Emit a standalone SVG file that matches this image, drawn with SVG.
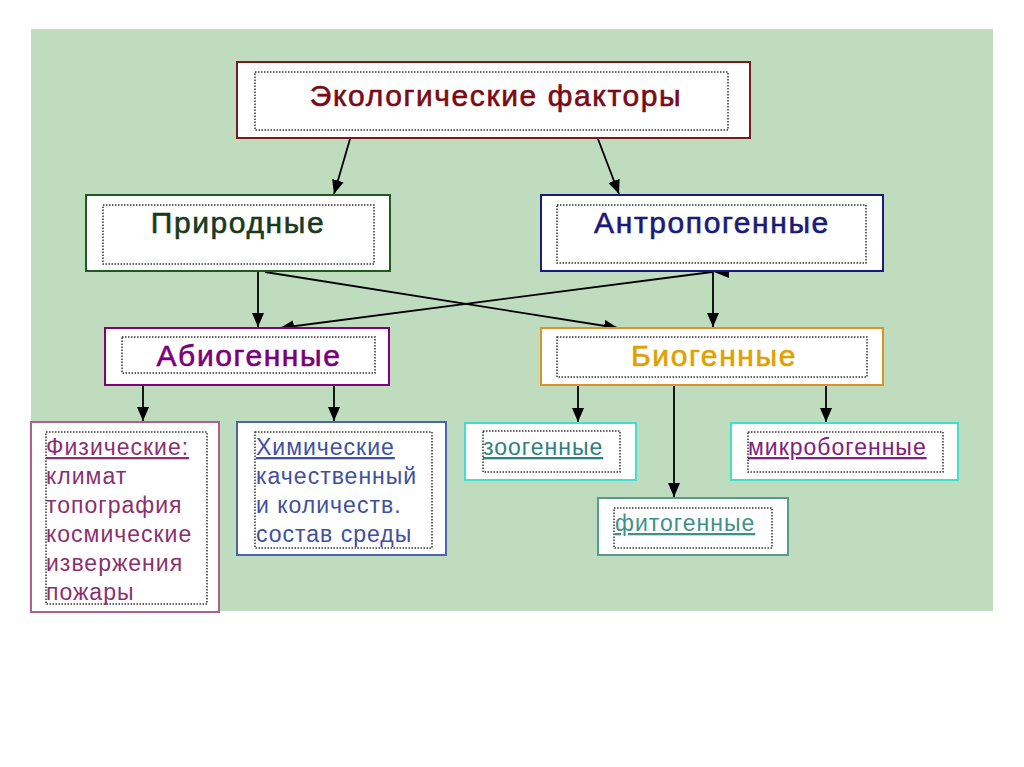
<svg xmlns="http://www.w3.org/2000/svg" width="1024" height="767" viewBox="0 0 1024 767">
<defs>
<marker id="ah" viewBox="0 0 14 12" refX="14" refY="6" markerWidth="14" markerHeight="12" markerUnits="userSpaceOnUse" orient="auto">
<path d="M0,0 L14,6 L0,12 z" fill="#000"/>
</marker>
<style>
.box{fill:#fff;stroke-width:2}
.dot{fill:none;stroke:#333;stroke-width:1.5;stroke-dasharray:1.5 1.5}
.big{font-family:"Liberation Sans",Arial,sans-serif;font-size:30px;letter-spacing:1.6px;text-anchor:middle;stroke-width:0.6px}
.sm{font-family:"Liberation Sans",Arial,sans-serif;font-size:23px;letter-spacing:1px}
.c{stroke:#000;stroke-width:1.8;fill:none;marker-end:url(#ah)}
</style>
</defs>
<rect x="0" y="0" width="1024" height="767" fill="#fff"/>
<rect x="31" y="29" width="962" height="582" fill="#c0dcbf"/>

<g id="connectors">
<line class="c" x1="350" y1="139" x2="334" y2="194"/>
<line class="c" x1="598" y1="139" x2="619" y2="194"/>
<line class="c" x1="258" y1="272" x2="258" y2="327"/>
<line class="c" x1="265" y1="272" x2="618" y2="328"/>
<line class="c" x1="712" y1="272" x2="280" y2="328"/>
<path d="M714,272 L729,265 L729,278 z" fill="#000"/>
<line class="c" x1="713" y1="272" x2="713" y2="327"/>
<line class="c" x1="143" y1="386" x2="143" y2="421"/>
<line class="c" x1="334" y1="386" x2="334" y2="421"/>
<line class="c" x1="578" y1="386" x2="578" y2="422"/>
<line class="c" x1="674" y1="386" x2="674" y2="497"/>
<line class="c" x1="826" y1="386" x2="826" y2="422"/>
</g>

<g id="ecofactors">
<rect class="box" x="237" y="62" width="513" height="76" stroke="#7a1a1a"/>
<rect class="dot" x="255" y="72" width="473" height="58"/>
<text class="big" x="496" y="106" fill="#7a0a14" stroke="#7a0a14" font-size="32" letter-spacing="1.3">Экологические факторы</text>
</g>

<g id="prirodnye">
<rect class="box" x="86" y="195" width="304" height="76" stroke="#1f5a1f"/>
<rect class="dot" x="103" y="205" width="271" height="59"/>
<text class="big" x="238" y="233" fill="#1a3a1a" stroke="#1a3a1a">Природные</text>
</g>

<g id="antropogennye">
<rect class="box" x="541" y="195" width="342" height="76" stroke="#1a1a80"/>
<rect class="dot" x="557" y="205" width="309" height="58"/>
<text class="big" x="712" y="233" fill="#1a1a78" stroke="#1a1a78">Антропогенные</text>
</g>

<g id="abiogennye">
<rect class="box" x="105" y="328" width="284" height="57" stroke="#800080"/>
<rect class="dot" x="122" y="337" width="253" height="36"/>
<text class="big" x="249" y="366" fill="#7a007a" stroke="#7a007a">Абиогенные</text>
</g>

<g id="biogennye">
<rect class="box" x="541" y="328" width="342" height="57" stroke="#e0902a"/>
<rect class="dot" x="557" y="337" width="310" height="40"/>
<text class="big" x="714" y="366" fill="#e0a000" stroke="#e0a000">Биогенные</text>
</g>

<g id="fizicheskie">
<rect class="box" x="31" y="422" width="188" height="190" stroke="#b06090"/>
<rect class="dot" x="46" y="432" width="161" height="172"/>
<g class="sm" fill="#8a3070">
<text x="46" y="455" text-decoration="underline">Физические:</text>
<text x="46" y="484">климат</text>
<text x="46" y="513">топография</text>
<text x="46" y="542">космические</text>
<text x="46" y="571">извержения</text>
<text x="46" y="600">пожары</text>
</g>
</g>

<g id="khimicheskie">
<rect class="box" x="237" y="422" width="209" height="133" stroke="#4a64b0"/>
<rect class="dot" x="255" y="432" width="177" height="116"/>
<g class="sm" fill="#4050a0">
<text x="256" y="455" text-decoration="underline">Химические</text>
<text x="256" y="484">качественный</text>
<text x="256" y="513">и количеств.</text>
<text x="256" y="542">состав среды</text>
</g>
</g>

<g id="zoogennye">
<rect class="box" x="465" y="423" width="171" height="57" stroke="#40e0d0"/>
<rect class="dot" x="483" y="431" width="137" height="41"/>
<text class="sm" x="483" y="455" fill="#308080" text-decoration="underline">зоогенные</text>
</g>

<g id="mikrobogennye">
<rect class="box" x="731" y="423" width="227" height="57" stroke="#40e0d0"/>
<rect class="dot" x="748" y="432" width="195" height="40"/>
<text class="sm" x="748" y="455" fill="#802080" text-decoration="underline">микробогенные</text>
</g>

<g id="fitogennye">
<rect class="box" x="598" y="498" width="190" height="57" stroke="#5a9a8a"/>
<rect class="dot" x="614" y="508" width="158" height="40"/>
<text class="sm" x="615" y="531" fill="#40908a" text-decoration="underline">фитогенные</text>
</g>
</svg>
